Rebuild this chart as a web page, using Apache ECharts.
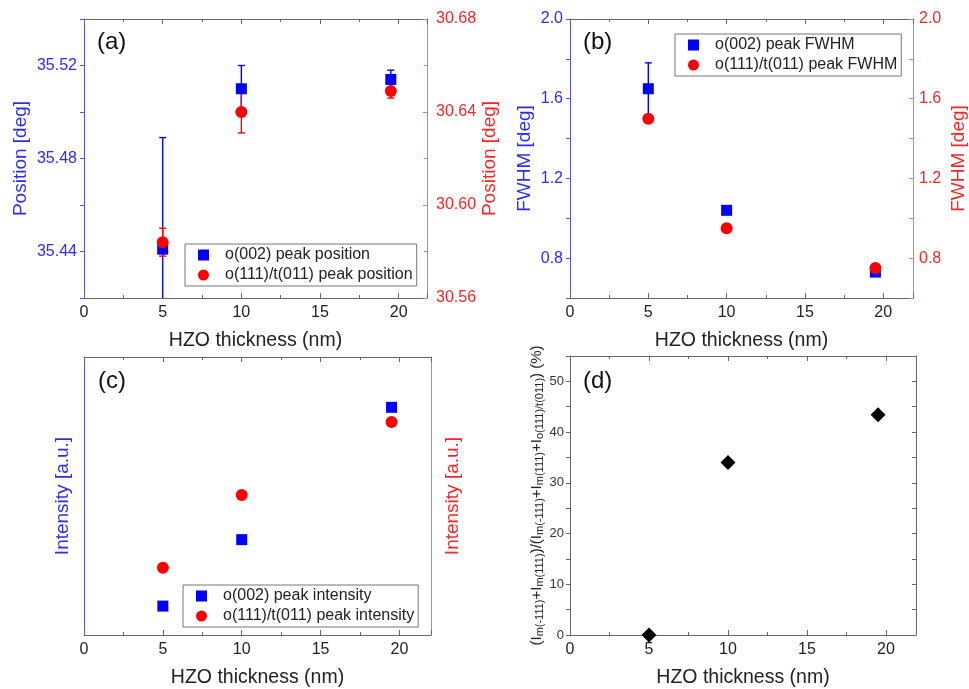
<!DOCTYPE html>
<html>
<head>
<meta charset="utf-8">
<script src="https://cdn.jsdelivr.net/npm/echarts@6/dist/echarts.min.js"></script>
<style>html,body{margin:0;padding:0;background:#fff}#c{width:969px;height:689px}</style>
</head>
<body>
<div id="c"></div>
<script>
// ---- data ----
const thicknessNm = [5, 10, 19.5];
const posO002 = [35.441, 35.510, 35.514];
const posO002Err = [0.048, 0.010, 0.004];
const posO111 = [30.584, 30.640, 30.649];
const posO111Err = [0.006, 0.009, 0.003];
const fwhmO002 = [1.65, 1.04, 0.73];
const fwhmO002Err = [0.13, 0.01, 0];
const fwhmO111 = [1.50, 0.95, 0.75];
const intensityO002 = [10.4, 34.3, 81.9];
const intensityO111 = [24.2, 50.4, 76.6];
const monoclinicPct = [0, 34, 43.4];
const panelLabels = ['(a)', '(b)', '(c)', '(d)'];
const seriesNames = {
  a: ['o(002) peak position', 'o(111)/t(011) peak position'],
  b: ['o(002) peak FWHM', 'o(111)/t(011) peak FWHM'],
  c: ['o(002) peak intensity', 'o(111)/t(011) peak intensity']
};

// ---- styles ----
const FONT = '"Liberation Sans", Arial, sans-serif';
const BLUE = '#0000ff', RED = '#ff0000';
const BLUE_TXT = '#2b2bff', RED_TXT = '#ff2424';
const BLUE_AX = '#5050ff', RED_AX = '#ff6e6e', GRAY_AX = '#666';

const grids = [
  {left: 84, top: 19, width: 343, height: 279},
  {left: 570, top: 19, width: 346, height: 279},
  {left: 84, top: 357, width: 347, height: 280},
  {left: 570, top: 356, width: 346, height: 280}
];
const xMax = [21.8, 21.9, 22, 21.9];

function xBottom(i) {
  return {
    gridIndex: i, type: 'value', position: 'bottom', min: 0, max: xMax[i], interval: 5,
    axisLine: {onZero: false, lineStyle: {color: GRAY_AX}},
    axisTick: {inside: true, length: 5, lineStyle: {color: GRAY_AX}},
    minorTick: {show: true, splitNumber: 2, length: 3, lineStyle: {color: GRAY_AX}},
    splitLine: {show: false},
    axisLabel: {fontSize: 16, color: '#222', fontFamily: FONT, margin: 7,
      formatter: v => Math.abs(v / 5 - Math.round(v / 5)) < 1e-6 ? String(v) : ''},
    name: 'HZO thickness (nm)', nameLocation: 'middle', nameGap: 33,
    nameTextStyle: {fontSize: 19.5, color: '#222', fontFamily: FONT}
  };
}
function xTop(i) {
  return {
    gridIndex: i, type: 'value', position: 'top', min: 0, max: xMax[i], interval: 5,
    axisLine: {onZero: false, lineStyle: {color: GRAY_AX}},
    axisTick: {inside: true, length: 5, lineStyle: {color: GRAY_AX}},
    minorTick: {show: true, splitNumber: 2, length: 3, lineStyle: {color: GRAY_AX}},
    splitLine: {show: false}, axisLabel: {show: false}
  };
}
function yAx(o) {
  return Object.assign({
    type: 'value', splitLine: {show: false},
    nameLocation: 'middle', nameRotate: 90
  }, o);
}

const yAxes = [
  // (a) left
  yAx({gridIndex: 0, position: 'left', min: 35.42, max: 35.54, interval: 0.02,
    axisLine: {onZero: false, lineStyle: {color: BLUE_AX}},
    axisTick: {inside: false, length: 4, lineStyle: {color: BLUE_AX}},
    axisLabel: {color: BLUE_TXT, fontSize: 16, fontFamily: FONT, margin: 7,
      formatter: v => Math.round(v * 100) % 4 === 0 ? v.toFixed(2) : ''},
    name: 'Position [deg]', nameGap: 54,
    nameTextStyle: {color: BLUE_TXT, fontSize: 19, fontFamily: FONT}}),
  // (b) left
  yAx({gridIndex: 1, position: 'left', min: 0.6, max: 2.0, interval: 0.2,
    axisLine: {onZero: false, lineStyle: {color: BLUE_AX}},
    axisTick: {inside: false, length: 4, lineStyle: {color: BLUE_AX}},
    axisLabel: {color: BLUE_TXT, fontSize: 16, fontFamily: FONT, margin: 7,
      formatter: v => Math.round(v * 10) % 4 === 0 ? v.toFixed(1) : ''},
    name: 'FWHM [deg]', nameGap: 36,
    nameTextStyle: {color: BLUE_TXT, fontSize: 19, fontFamily: FONT}}),
  // (c) left
  yAx({gridIndex: 2, position: 'left', min: 0, max: 100,
    axisLine: {onZero: false, lineStyle: {color: BLUE_AX}},
    axisTick: {show: false}, axisLabel: {show: false},
    name: 'Intensity [a.u.]', nameGap: 12,
    nameTextStyle: {color: BLUE_TXT, fontSize: 19, fontFamily: FONT}}),
  // (d) left
  yAx({gridIndex: 3, position: 'left', min: 0, max: 55, interval: 5,
    axisLine: {onZero: false, lineStyle: {color: GRAY_AX}},
    axisTick: {inside: false, length: 4, lineStyle: {color: GRAY_AX}},
    axisLabel: {color: '#333', fontSize: 13, fontFamily: FONT, margin: 6,
      formatter: v => Math.round(v) % 10 === 0 ? String(Math.round(v)) : ''},
    name: '(I{s|m(-111)}+I{s|m(111)})/(I{s|m(-111)}+I{s|m(111)}+I{s|o(111)/t(011)}) (%)',
    nameGap: 24,
    nameTextStyle: {color: '#222', fontSize: 15, fontFamily: FONT, lineHeight: 18,
      rich: {s: {fontSize: 11, fontFamily: FONT, color: '#222', verticalAlign: 'bottom', lineHeight: 11}}}}),
  // (a) right
  yAx({gridIndex: 0, position: 'right', min: 30.56, max: 30.68, interval: 0.04,
    axisLine: {onZero: false, lineStyle: {color: RED_AX}},
    axisTick: {inside: true, length: 4, lineStyle: {color: RED_AX}},
    minorTick: {show: true, splitNumber: 2, length: 3, lineStyle: {color: RED_AX}},
    axisLabel: {color: RED_TXT, fontSize: 16, fontFamily: FONT, margin: 9,
      formatter: v => v.toFixed(2)},
    name: 'Position [deg]', nameGap: 52,
    nameTextStyle: {color: RED_TXT, fontSize: 19, fontFamily: FONT}}),
  // (b) right
  yAx({gridIndex: 1, position: 'right', min: 0.6, max: 2.0, interval: 0.2,
    axisLine: {onZero: false, lineStyle: {color: RED_AX}},
    axisTick: {inside: true, length: 4, lineStyle: {color: RED_AX}},
    axisLabel: {color: RED_TXT, fontSize: 16, fontFamily: FONT, margin: 6,
      formatter: v => Math.round(v * 10) % 4 === 0 ? v.toFixed(1) : ''},
    name: 'FWHM [deg]', nameGap: 36,
    nameTextStyle: {color: RED_TXT, fontSize: 19, fontFamily: FONT}}),
  // (c) right
  yAx({gridIndex: 2, position: 'right', min: 0, max: 100,
    axisLine: {onZero: false, lineStyle: {color: RED_AX}},
    axisTick: {show: false}, axisLabel: {show: false},
    name: 'Intensity [a.u.]', nameGap: 12,
    nameTextStyle: {color: RED_TXT, fontSize: 19, fontFamily: FONT}}),
  // (d) right
  yAx({gridIndex: 3, position: 'right', min: 0, max: 55, interval: 5,
    axisLine: {onZero: false, lineStyle: {color: GRAY_AX}},
    axisTick: {inside: true, length: 4, lineStyle: {color: GRAY_AX}},
    axisLabel: {show: false}})
];

function errRender(color) {
  return function (params, api) {
    const x = api.value(0), lo = api.value(1), hi = api.value(2);
    const a = api.coord([x, hi]), b = api.coord([x, lo]);
    const h = 3.5;
    const style = {stroke: color, lineWidth: 1.4};
    return {type: 'group', children: [
      {type: 'line', shape: {x1: a[0], y1: a[1], x2: b[0], y2: b[1]}, style},
      {type: 'line', shape: {x1: a[0] - h, y1: a[1], x2: a[0] + h, y2: a[1]}, style},
      {type: 'line', shape: {x1: b[0] - h, y1: b[1], x2: b[0] + h, y2: b[1]}, style}
    ]};
  };
}
function errSeries(xi, yi, vals, errs, color) {
  const data = [];
  thicknessNm.forEach((x, k) => { if (errs[k] > 0) data.push([x, vals[k] - errs[k], vals[k] + errs[k]]); });
  return {type: 'custom', xAxisIndex: xi, yAxisIndex: yi, clip: true, silent: true,
    renderItem: errRender(color), encode: {x: 0, y: [1, 2]}, data};
}
function pts(name, xi, yi, vals, symbol, size, color) {
  return {type: 'scatter', name, xAxisIndex: xi, yAxisIndex: yi, symbol, symbolSize: size,
    itemStyle: {color, opacity: 1}, silent: true, clip: false,
    data: thicknessNm.map((x, k) => [x, vals[k]])};
}

const series = [
  errSeries(0, 0, posO002, posO002Err, BLUE),
  pts(seriesNames.a[0], 0, 0, posO002, 'rect', 11, BLUE),
  errSeries(0, 4, posO111, posO111Err, RED),
  pts(seriesNames.a[1], 0, 4, posO111, 'circle', 12, RED),
  errSeries(1, 1, fwhmO002, fwhmO002Err, BLUE),
  pts(seriesNames.b[0], 1, 1, fwhmO002, 'rect', 11, BLUE),
  pts(seriesNames.b[1], 1, 5, fwhmO111, 'circle', 12, RED),
  pts(seriesNames.c[0], 2, 2, intensityO002, 'rect', 11, BLUE),
  pts(seriesNames.c[1], 2, 6, intensityO111, 'circle', 12, RED),
  pts('monoclinic fraction', 3, 3, monoclinicPct, 'diamond', 15, '#000')
];

function legendAt(names, left, top) {
  return {data: names, left, top, orient: 'vertical', selectedMode: false,
    itemWidth: 11, itemHeight: 11, itemGap: 2, padding: [2, 4, 2, 13],
    borderColor: '#777', borderWidth: 1, backgroundColor: '#fff',
    textStyle: {fontSize: 16, fontFamily: FONT, color: '#222', lineHeight: 18, padding: [0, 0, 0, 11]}};
}

const labelPos = [[97, 43], [583, 43], [98, 382], [583, 382]];
const graphic = panelLabels.map((t, i) => ({
  type: 'text', left: labelPos[i][0], top: labelPos[i][1] - 13, z: 100,
  style: {text: t, fontSize: 24, fontFamily: FONT, fill: '#111'}
}));

const chart = echarts.init(document.getElementById('c'), null, {renderer: 'canvas'});
chart.setOption({
  animation: false,
  backgroundColor: '#fff',
  grid: grids,
  xAxis: [0, 1, 2, 3].map(xBottom).concat([0, 1, 2, 3].map(xTop)),
  yAxis: yAxes,
  legend: [
    legendAt(seriesNames.a, 185, 244),
    legendAt(seriesNames.b, 675, 34),
    legendAt(seriesNames.c, 183, 585)
  ],
  graphic,
  series
});
</script>
</body>
</html>
